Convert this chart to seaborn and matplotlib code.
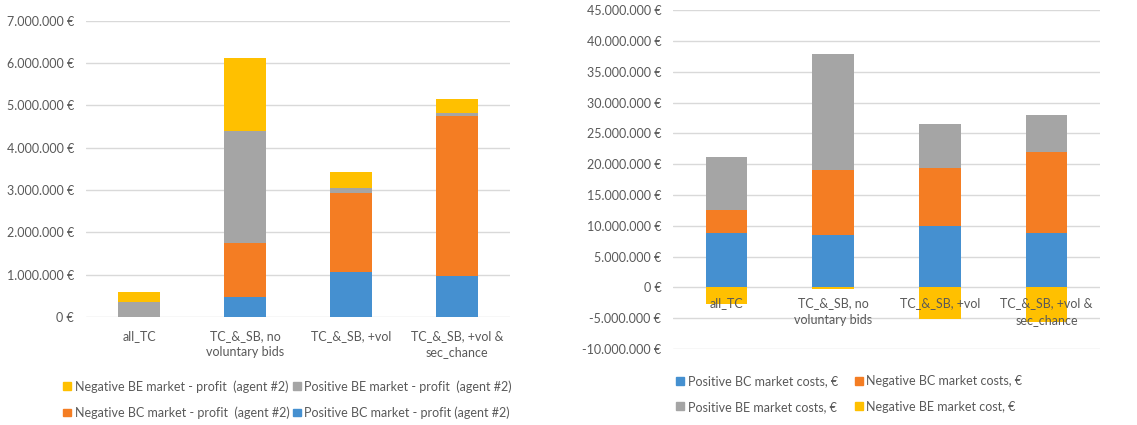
import numpy as np
import matplotlib
matplotlib.use("Agg")
import matplotlib.pyplot as plt
import seaborn as sns
from matplotlib.ticker import FuncFormatter, MultipleLocator
from matplotlib.patches import Patch

# data
cats_left = ["all_TC", "TC_&_SB, no\nvoluntary bids", "TC_&_SB, +vol", "TC_&_SB, +vol &\nsec_chance"]
pos_bc_profit = [0.0, 480000, 1060000, 970000]
neg_bc_profit = [0.0, 1270000, 1880000, 3770000]
pos_be_profit = [350000, 2640000, 100000, 90000]
neg_be_profit = [250000, 1720000, 390000, 320000]

cats_right = ["all_TC", "TC_&_SB, no\nvoluntary bids", "TC_&_SB, +vol", "TC_&_SB, +vol &\nsec_chance"]
pos_bc_cost = [8840000, 8460000, 10030000, 8840000]
neg_bc_cost = [3690000, 10570000, 9270000, 13060000]
pos_be_cost = [8670000, 18870000, 7300000, 6080000]
neg_be_cost = [-2770000, -270000, -5100000, -5640000]

blue, orange, gray, yellow = "#4590d0", "#f47d23", "#a5a5a5", "#ffc000"
txt = "#595959"
grid_c = "#d9d9d9"

sns.set_style("white")
plt.rcParams["font.family"] = ["Lato", "DejaVu Sans"]
plt.rcParams["font.size"] = 9

fig = plt.figure(figsize=(11.37, 4.25), dpi=100)
ax1 = fig.add_axes([0.0756, 0.254, 0.373, 0.697])
ax2 = fig.add_axes([0.592, 0.179, 0.3755, 0.797])


def euro(v, pos):
    return f"{int(round(v)):,}".replace(",", ".") + " €"


def stack(ax, cats, series, colors):
    bottom = np.zeros(len(cats))
    for vals, col in zip(series, colors):
        vals = np.array(vals, dtype=float)
        sns.barplot(x=cats, y=vals, bottom=bottom, color=col, saturation=1,
                    width=0.39, linewidth=0, errorbar=None, ax=ax)
        bottom = bottom + vals


# left chart: profits
stack(ax1, cats_left, [pos_bc_profit, neg_bc_profit, pos_be_profit, neg_be_profit],
      [blue, orange, gray, yellow])
ax1.set_ylim(0, 7000000)
ax1.yaxis.set_major_locator(MultipleLocator(1000000))

# right chart: costs (negative BE cost drawn below zero)
stack(ax2, cats_right, [pos_bc_cost, neg_bc_cost, pos_be_cost], [blue, orange, gray])
sns.barplot(x=cats_right, y=neg_be_cost, color=yellow, saturation=1, width=0.39,
            linewidth=0, errorbar=None, ax=ax2)
ax2.set_ylim(-10000000, 45000000)
ax2.yaxis.set_major_locator(MultipleLocator(5000000))
ax2.spines["bottom"].set_position(("data", 0))

for ax in (ax1, ax2):
    ax.set_xlim(-0.5, 3.5)
    ax.set_axisbelow(False)
    ax.yaxis.set_major_formatter(FuncFormatter(euro))
    for y in ax.get_yticks():
        if ax.get_ylim()[0] <= y <= ax.get_ylim()[1]:
            ax.axhline(y, color=grid_c, lw=1, zorder=0)
    for s in ax.spines.values():
        s.set_visible(False)
    ax.tick_params(axis="both", length=0, colors=txt, labelsize=9)
    for lab in ax.get_xticklabels():
        lab.set_linespacing(1.45)
    ax.set_xlabel("")
    ax.set_ylabel("")
    ax.set_facecolor("none")

ax1.tick_params(axis="x", pad=9)
ax1.tick_params(axis="y", pad=8.5)
ax2.tick_params(axis="x", pad=7)
ax2.tick_params(axis="y", pad=8.5)

h_left = [Patch(color=yellow), Patch(color=orange), Patch(color=gray), Patch(color=blue)]
l_left = ["Negative BE market - profit  (agent #2)", "Negative BC market - profit  (agent #2)",
          "Positive BE market - profit  (agent #2)", "Positive BC market - profit (agent #2)"]
fig.legend(h_left, l_left, ncol=2, loc="center", bbox_to_anchor=(0.253, 0.06),
           frameon=False, handlelength=0.6, handleheight=0.6, handletextpad=0.3,
           columnspacing=0.3, labelspacing=1.1, labelcolor=txt, fontsize=9)

h_right = [Patch(color=blue), Patch(color=gray), Patch(color=orange), Patch(color=yellow)]
l_right = ["Positive BC market costs, €", "Positive BE market costs, €",
           "Negative BC market costs, €", "Negative BE market cost, €"]
fig.legend(h_right, l_right, ncol=2, loc="center", bbox_to_anchor=(0.747, 0.073),
           frameon=False, handlelength=0.6, handleheight=0.6, handletextpad=0.3,
           columnspacing=1.4, labelspacing=1.1, labelcolor=txt, fontsize=9)

fig.savefig("out.png", dpi=100, facecolor="white")
